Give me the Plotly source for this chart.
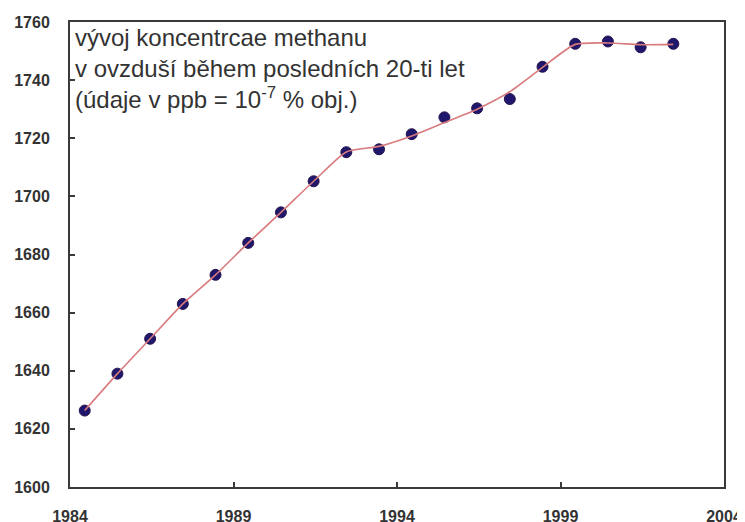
import plotly.graph_objects as go

# Data (mid-year values, ppb)
x_years = [1984.45, 1985.45, 1986.45, 1987.45, 1988.45, 1989.45, 1990.45,
           1991.45, 1992.45, 1993.45, 1994.45, 1995.45, 1996.45, 1997.45,
           1998.45, 1999.45, 2000.45, 2001.45, 2002.45]
ch4_ppb = [1626.3, 1639.0, 1651.0, 1663.0, 1673.0, 1684.0, 1694.5,
           1705.2, 1715.2, 1716.2, 1721.4, 1727.2, 1730.3, 1733.5,
           1744.6, 1752.5, 1753.3, 1751.3, 1752.5]
# Smoothed trend line as drawn in the reference
trend_ppb = [1626.3, 1639.0, 1651.0, 1663.0, 1673.0, 1684.0, 1694.5,
             1705.2, 1715.3, 1717.2, 1720.8, 1725.4, 1730.0, 1736.0,
             1744.4, 1752.3, 1752.8, 1752.2, 1752.3]

x_ticks = [1984, 1989, 1994, 1999, 2004]
y_ticks = [1600, 1620, 1640, 1660, 1680, 1700, 1720, 1740, 1760]

title_text = ("vývoj koncentrcae methanu<br>"
              "v ovzduší během posledních 20-ti let<br>"
              "(údaje v ppb = 10<sup>-7</sup> % obj.)")

fig = go.Figure()
fig.add_trace(go.Scatter(
    x=x_years, y=ch4_ppb, mode="markers",
    marker=dict(size=11, color="#1e176b", line=dict(width=1, color="#2a1450")),
    showlegend=False, hoverinfo="x+y"))
fig.add_trace(go.Scatter(
    x=x_years, y=trend_ppb, mode="lines",
    line=dict(color="#d97a7c", width=1.6, shape="spline", smoothing=0.6),
    showlegend=False, hoverinfo="skip"))

fig.add_annotation(
    text=title_text, xref="paper", yref="paper", x=0.005, y=1.0,
    xanchor="left", yanchor="top", align="left", showarrow=False,
    font=dict(family="Liberation Sans, Arial, sans-serif", size=24,
              color="#333333", weight="normal"))

axis_common = dict(
    showline=True, linecolor="#3a3a3a", linewidth=2, mirror=True,
    showgrid=False, zeroline=False, ticks="inside", ticklen=5,
    tickwidth=1.5, tickcolor="#3a3a3a", automargin=False,
    tickfont=dict(family="Liberation Sans, Arial, sans-serif", size=16,
                  color="#333333", weight="bold"),
)

fig.update_xaxes(range=[1984, 2004], tickvals=x_ticks,
                 ticktext=[str(t) for t in x_ticks], ticklabelstandoff=14,
                 **axis_common)
fig.update_yaxes(range=[1600, 1760], tickvals=y_ticks,
                 ticktext=[str(t) for t in y_ticks], ticklabelstandoff=15,
                 **axis_common)

# page body adds an 8px offset, so the figure is sized to fill the rest
fig.update_layout(
    width=737, height=514,
    margin=dict(l=62, r=21, t=14, b=35),
    paper_bgcolor="white", plot_bgcolor="white",
    font=dict(family="Liberation Sans, Arial, sans-serif"),
)

fig.write_html("out.html")
